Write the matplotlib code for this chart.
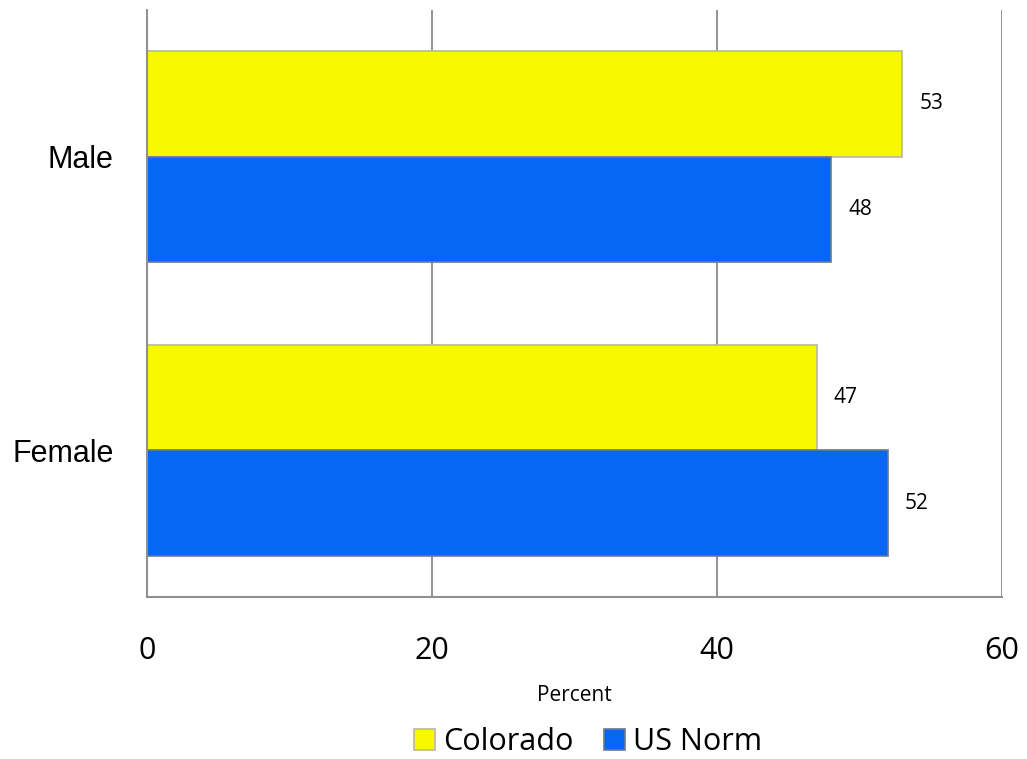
import numpy as np
import matplotlib.pyplot as plt

# Data
categories = ['Female', 'Male']
colorado = [47, 53]
us_norm = [52, 48]
series_names = ['Colorado', 'US Norm']
x_ticks = [0, 20, 40, 60]

yellow = '#F8F800'
blue = '#0567F4'

fig = plt.figure(figsize=(10.27, 7.59), dpi=100)
ax = fig.add_axes([147 / 1027, 1 - 597 / 759, (1002 - 147) / 1027, (597 - 10) / 759])

y = np.arange(len(categories))
h = 0.36
b1 = ax.barh(y + h / 2, colorado, height=h, color=yellow, edgecolor='#b8b8a0', linewidth=1.2, label=series_names[0])
b2 = ax.barh(y - h / 2, us_norm, height=h, color=blue, edgecolor='#6a7a90', linewidth=1.2, label=series_names[1])

for bars in (b1, b2):
    for bar in bars:
        w = bar.get_width()
        ax.text(w + 1.2, bar.get_y() + bar.get_height() / 2, f'{w:.0f}',
                va='center', ha='left', fontsize=15, family='Open Sans')

ax.set_xlim(0, 60)
ax.set_ylim(-0.5, 1.5)
ax.set_xticks(x_ticks)
ax.set_xticklabels([str(t) for t in x_ticks], fontsize=22, family='Open Sans')
ax.set_yticks(y)
ax.set_yticklabels(categories, fontsize=22, family=['Liberation Sans Narrow', 'Liberation Sans'])
ax.tick_params(axis='both', length=0)
ax.tick_params(axis='x', pad=28)
ax.tick_params(axis='y', pad=24)

ax.set_axisbelow(True)
ax.grid(axis='x', color='#808080', linewidth=1.2)
for s in ['top', 'right']:
    ax.spines[s].set_visible(False)
for s in ['left', 'bottom']:
    ax.spines[s].set_color('#909090')
    ax.spines[s].set_linewidth(1.5)

ax.set_xlabel('Percent', fontsize=15, family='Open Sans', labelpad=14)

ax.legend(loc='center', bbox_to_anchor=(588 / 1027, 1 - 742 / 759), bbox_transform=fig.transFigure,
          ncol=2, frameon=False, prop={'family': 'Open Sans', 'size': 22},
          handlelength=0.7, handleheight=0.7, handletextpad=0.25, columnspacing=1.0)

fig.savefig('out.png', dpi=100)
